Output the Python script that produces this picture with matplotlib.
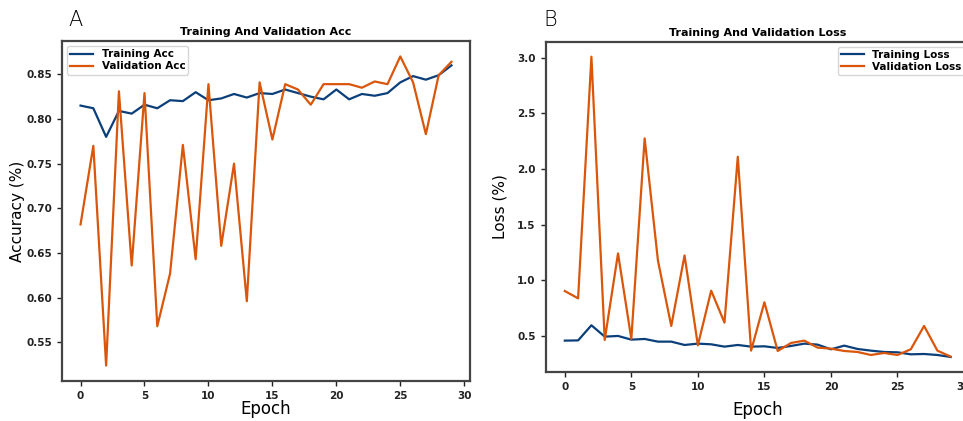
import matplotlib
matplotlib.use("Agg")
import matplotlib.pyplot as plt
import numpy as np

epochs = list(range(30))

train_acc = [0.815, 0.812, 0.780, 0.809, 0.806, 0.816, 0.812, 0.821, 0.820, 0.830,
             0.821, 0.823, 0.828, 0.824, 0.829, 0.828, 0.833, 0.829, 0.825, 0.822,
             0.833, 0.822, 0.828, 0.826, 0.829, 0.841, 0.848, 0.844, 0.849, 0.860]
val_acc = [0.682, 0.770, 0.524, 0.831, 0.636, 0.829, 0.568, 0.627, 0.771, 0.643,
           0.839, 0.658, 0.750, 0.596, 0.841, 0.777, 0.839, 0.833, 0.816, 0.839,
           0.839, 0.839, 0.835, 0.842, 0.839, 0.870, 0.841, 0.783, 0.849, 0.864]

train_loss = [0.458, 0.460, 0.596, 0.494, 0.500, 0.467, 0.473, 0.449, 0.449, 0.419,
              0.431, 0.425, 0.404, 0.419, 0.404, 0.407, 0.392, 0.410, 0.431, 0.422,
              0.380, 0.413, 0.383, 0.368, 0.356, 0.353, 0.335, 0.338, 0.329, 0.311]
val_loss = [0.904, 0.838, 3.010, 0.464, 1.242, 0.473, 2.276, 1.177, 0.590, 1.224,
            0.416, 0.907, 0.620, 2.111, 0.368, 0.803, 0.365, 0.437, 0.458, 0.395,
            0.386, 0.365, 0.356, 0.329, 0.347, 0.329, 0.380, 0.590, 0.368, 0.314]

BLUE = "#0b3f7a"
ORANGE = "#d9560a"

W, H = 963, 421
fig = plt.figure(figsize=(W / 100, H / 100), dpi=100)

def box(x0, y0, x1, y1):
    return [x0 / W, 1 - y1 / H, (x1 - x0) / W, (y1 - y0) / H]

ax1 = fig.add_axes(box(62, 41, 470, 381))
ax2 = fig.add_axes(box(545.5, 41.7, 970, 372))

for ax in (ax1, ax2):
    for s in ax.spines.values():
        s.set_linewidth(1.6)
        s.set_color("#444444")
    ax.tick_params(labelsize=7.5, width=1, length=3.5, colors="#222222")

ax1.plot(epochs, train_acc, color=BLUE, lw=1.6, label="Training Acc")
ax1.plot(epochs, val_acc, color=ORANGE, lw=1.6, label="Validation Acc")
ax1.set_xticks([0, 5, 10, 15, 20, 25, 30])
ax1.set_yticks([0.55, 0.60, 0.65, 0.70, 0.75, 0.80, 0.85])
ax1.set_title("Training And Validation Acc", fontsize=8, fontweight="bold", pad=4)
ax1.set_xlabel("Epoch", fontsize=12, va="center")
ax1.set_ylabel("Accuracy (%)", fontsize=11, va="center")
ax1.xaxis.set_label_coords(0.5, -(409 - 381) / 340)
ax1.yaxis.set_label_coords(-(62 - 18) / 408, 0.5)
ax1.legend(loc="upper left", prop={"size": 7.5, "weight": "bold"}, handlelength=2.2,
           borderpad=0.3, labelspacing=0.2)

ax2.plot(epochs, train_loss, color=BLUE, lw=1.6, label="Training Loss")
ax2.plot(epochs, val_loss, color=ORANGE, lw=1.6, label="Validation Loss")
ax2.set_xticks([0, 5, 10, 15, 20, 25, 30])
ax2.set_yticks([0.5, 1.0, 1.5, 2.0, 2.5, 3.0])
ax2.set_title("Training And Validation Loss", fontsize=8, fontweight="bold", pad=4)
ax2.set_xlabel("Epoch", fontsize=12, va="center")
ax2.set_ylabel("Loss (%)", fontsize=11, va="center")
ax2.xaxis.set_label_coords(0.5, -(410 - 372) / 330.3)
ax2.yaxis.set_label_coords(-(545.5 - 500) / 424.5, 0.5)
ax2.legend(loc="upper right", prop={"size": 7.5, "weight": "bold"}, handlelength=2.2,
           borderpad=0.3, labelspacing=0.2)

for ax in (ax1, ax2):
    for lab in ax.get_xticklabels() + ax.get_yticklabels():
        lab.set_fontweight("bold")

fig.text(68 / W, 1 - 20 / H, "A", fontsize=15, ha="left", va="center", fontweight="light")
fig.text(543 / W, 1 - 20 / H, "B", fontsize=15, ha="left", va="center", fontweight="light")

fig.savefig("out.png", dpi=100)
